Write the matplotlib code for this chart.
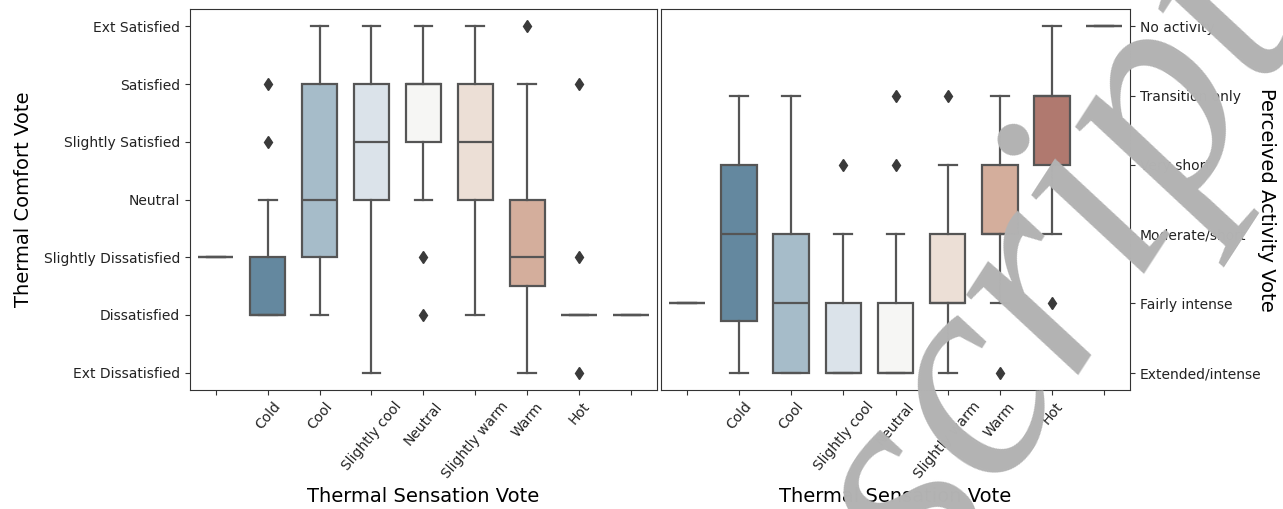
import matplotlib
matplotlib.use("Agg")
import matplotlib.pyplot as plt
import numpy as np

# Category labels
sensation_labels = ['', 'Cold', 'Cool', 'Slightly cool', 'Neutral',
                    'Slightly warm', 'Warm', 'Hot', '']
comfort_labels = ['Ext Dissatisfied', 'Dissatisfied', 'Slightly Dissatisfied',
                  'Neutral', 'Slightly Satisfied', 'Satisfied', 'Ext Satisfied']
comfort_values = [-3, -2, -1, 0, 1, 2, 3]
activity_labels = ['Extended/intense', 'Fairly intense', 'Moderate/short',
                   'Very short', 'Transition only', 'No activity']
activity_values = [0, 1, 2, 3, 4, 5]

# Thermal comfort vote summary per sensation category
comfort_whislo = [-1, -2, -2, -3, 0, -2, -3, -2, -2]
comfort_q1 = [-1, -2, -1, 0, 1, 0, -1.5, -2, -2]
comfort_med = [-1, -2, 0, 1, 2, 1, -1, -2, -2]
comfort_q3 = [-1, -1, 2, 2, 2, 2, 0, -2, -2]
comfort_whishi = [-1, 0, 3, 3, 3, 3, 2, -2, -2]
comfort_fliers = [[], [1, 2], [], [], [-1, -2], [], [3], [2, -1, -3], []]

# Perceived activity vote summary per sensation category
act_whislo = [1, 0, 0, 0, 0, 0, 1, 2, 5]
act_q1 = [1, 0.75, 0, 0, 0, 1, 2, 3, 5]
act_med = [1, 2, 1, 0, 0, 1, 2, 4, 5]
act_q3 = [1, 3, 2, 1, 1, 2, 3, 4, 5]
act_whishi = [1, 4, 4, 2, 2, 3, 4, 5, 5]
act_fliers = [[], [], [], [3], [3, 4], [4], [0], [1], []]

box_colors = ['#4a7594', '#64889f', '#a6bcc9', '#dbe3ea', '#f6f6f4',
              '#ecdfd6', '#d4ae9c', '#b0796f', '#9c5a50']

EDGE = '#555555'


def make_stats(lo, q1, med, q3, hi, fl):
    return [dict(whislo=a, q1=b, med=c, q3=d, whishi=e, fliers=f)
            for a, b, c, d, e, f in zip(lo, q1, med, q3, hi, fl)]


def draw(ax, stats):
    pos = np.arange(len(stats))
    bp = ax.bxp(stats, positions=pos, widths=0.68, patch_artist=True,
                showfliers=True, manage_ticks=False,
                boxprops=dict(edgecolor=EDGE, linewidth=1.6),
                whiskerprops=dict(color=EDGE, linewidth=1.6),
                capprops=dict(color=EDGE, linewidth=1.6),
                medianprops=dict(color=EDGE, linewidth=1.6),
                flierprops=dict(marker='d', markerfacecolor='#3a3a3a',
                                markeredgecolor='#3a3a3a', markersize=6))
    for patch, c in zip(bp['boxes'], box_colors):
        patch.set_facecolor(c)
    ax.set_xlim(-0.5, len(stats) - 0.5)
    ax.set_xticks(pos)
    ax.set_xticklabels(sensation_labels, rotation=50, fontsize=10)
    ax.set_xlabel('Thermal Sensation Vote', fontsize=14)
    for s in ax.spines.values():
        s.set_color('#333333')
    ax.tick_params(colors='#333333', labelcolor='#222222')


fig = plt.figure(figsize=(12.83, 5.09), dpi=100)
ax1 = fig.add_axes([0.148, 0.234, 0.364, 0.748])
ax2 = fig.add_axes([0.515, 0.234, 0.366, 0.748])

draw(ax1, make_stats(comfort_whislo, comfort_q1, comfort_med, comfort_q3,
                     comfort_whishi, comfort_fliers))
ax1.set_ylim(-3.3, 3.3)
ax1.set_yticks(comfort_values)
ax1.set_yticklabels(comfort_labels, fontsize=10)
ax1.set_ylabel('Thermal Comfort Vote', fontsize=14, labelpad=8)

draw(ax2, make_stats(act_whislo, act_q1, act_med, act_q3, act_whishi,
                     act_fliers))
ax2.set_ylim(-0.25, 5.25)
ax2.set_yticks(activity_values)
ax2.set_yticklabels(activity_labels, fontsize=10)
ax2.yaxis.tick_right()
ax2.yaxis.set_label_position('right')
ax2.set_ylabel('Perceived Activity Vote', fontsize=14, rotation=270,
               labelpad=10)

# Diagonal watermark over the figure
fig.text(1.02, 0.95, 'Manuscript', fontsize=215, family='Liberation Serif',
         style='italic', color='#b3b3b3', rotation=57, ha='right',
         va='baseline', rotation_mode='anchor', zorder=10)

fig.savefig('out.png', dpi=100)
